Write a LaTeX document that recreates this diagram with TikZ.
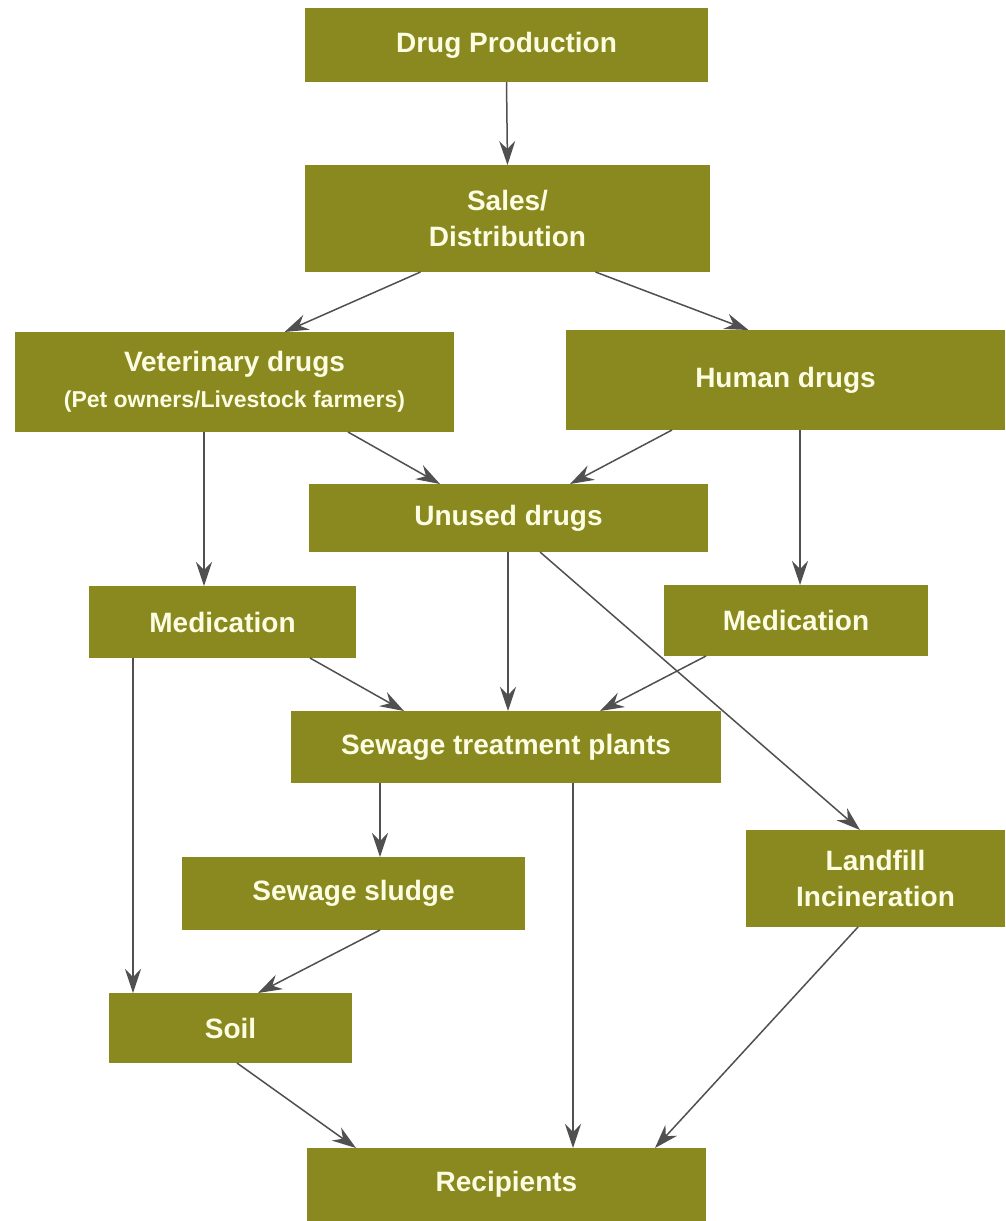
\documentclass[tikz,border=0pt]{standalone}
\usepackage{fontspec}
\setmainfont{Liberation Sans}
\usetikzlibrary{arrows.meta}
\definecolor{olive}{RGB}{137,137,32}
\definecolor{cream}{RGB}{252,252,226}
\definecolor{arrowgray}{RGB}{80,80,80}
\begin{document}
\begin{tikzpicture}[x=1pt,y=-1pt,
  box/.style={fill=olive,draw=none,text=cream,align=center,inner sep=0pt,outer sep=0pt,
    font=\bfseries\fontsize{28}{36}\selectfont},
  flow/.style={draw=arrowgray,line width=1.5pt,-{Stealth[length=24pt,width=16pt,inset=8pt]}}]
\useasboundingbox (0,0) rectangle (1005,1221);
\fill[white] (0,0) rectangle (1005,1221);
\node[box,minimum width=403,minimum height=74] (dp) at (506.5,45) {Drug Production};
\node[box,minimum width=405,minimum height=107] (sd) at (507.5,218.5) {Sales/\\Distribution};
\node[box,minimum width=439,minimum height=100] (vet) at (234.5,382) {Veterinary drugs\\{\fontsize{23}{30}\selectfont (Pet owners/Livestock farmers)}};
\node[box,minimum width=439,minimum height=100] (hum) at (785.5,380) {Human drugs};
\node[box,minimum width=399,minimum height=68] (un) at (508.5,518) {Unused drugs};
\node[box,minimum width=267,minimum height=72] (ml) at (222.5,622) {Medication};
\node[box,minimum width=264,minimum height=71] (mr) at (796,620.5) {Medication};
\node[box,minimum width=430,minimum height=72] (stp) at (506,747) {Sewage treatment plants};
\node[box,minimum width=343,minimum height=73] (ss) at (353.5,893.5) {Sewage sludge};
\node[box,minimum width=259,minimum height=97] (lf) at (875.5,878.5) {Landfill\\Incineration};
\node[box,minimum width=243,minimum height=70] (soil) at (230.5,1028) {Soil};
\node[box,minimum width=399,minimum height=73] (rec) at (506.5,1184.5) {Recipients};

\draw[flow] (dp.south) -- (sd.north);
\draw[flow] ([xshift=-87]sd.south) -- ([xshift=50]vet.north);
\draw[flow] ([xshift=88]sd.south) -- ([xshift=-37]hum.north);
\draw[flow] ([xshift=-30.5]vet.south) -- ([xshift=-18.5]ml.north);
\draw[flow] ([xshift=113.5]vet.south) -- ([xshift=-68.5]un.north);
\draw[flow] ([xshift=-113.5]hum.south) -- ([xshift=61.5]un.north);
\draw[flow] ([xshift=14.5]hum.south) -- ([xshift=4]mr.north);
\draw[flow] ([xshift=-0.5]un.south) -- ([xshift=2]stp.north);
\draw[flow] ([xshift=31.5]un.south) -- ([xshift=-15.5]lf.north);
\draw[flow] ([xshift=87.5]ml.south) -- ([xshift=-102]stp.north);
\draw[flow] ([xshift=-90]mr.south) -- ([xshift=94]stp.north);
\draw[flow] ([xshift=-89.5]ml.south) -- ([xshift=-97.5]soil.north);
\draw[flow] ([xshift=-126]stp.south) -- ([xshift=26.5]ss.north);
\draw[flow] ([xshift=67]stp.south) -- ([xshift=66.5]rec.north);
\draw[flow] ([xshift=26.5]ss.south) -- ([xshift=27.5]soil.north);
\draw[flow] ([xshift=6.5]soil.south) -- ([xshift=-150.5]rec.north);
\draw[flow] ([xshift=-17.5]lf.south) -- ([xshift=148.5]rec.north);
\end{tikzpicture}
\end{document}
